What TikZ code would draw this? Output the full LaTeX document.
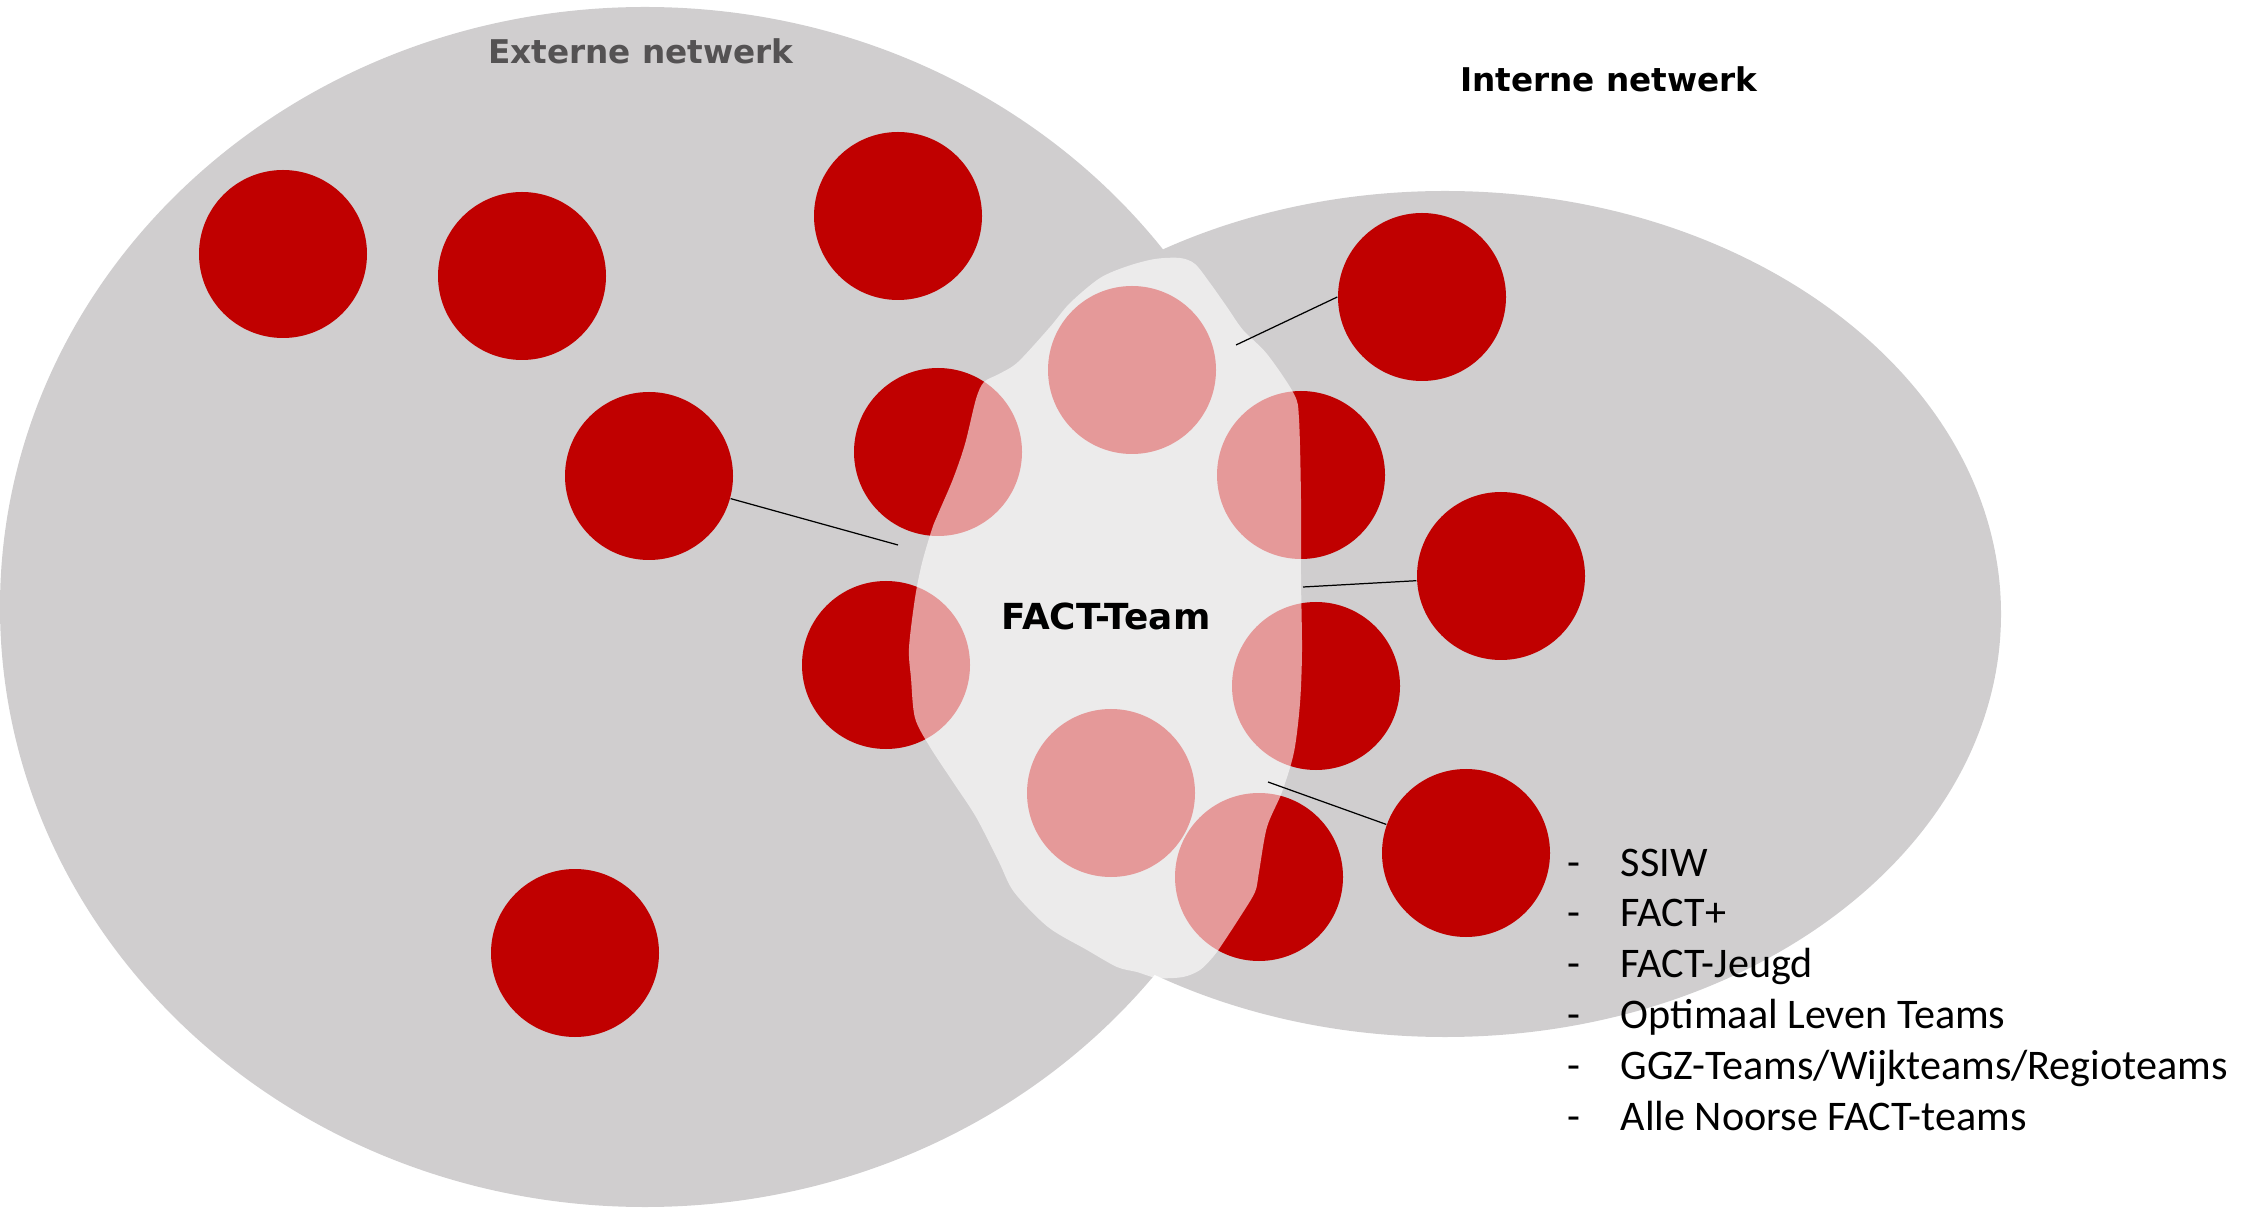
\documentclass[tikz,border=0pt]{standalone}
\usepackage{fontspec}
\newfontfamily\labelfont{DejaVu Sans}
\newfontfamily\listfont{Carlito}
\usetikzlibrary{positioning}
\definecolor{netgrey}{RGB}{208,206,207}
\definecolor{dotred}{RGB}{192,0,0}
\definecolor{extgrey}{RGB}{84,82,83}

\begin{document}
\begin{tikzpicture}[x=1mm,y=-1mm,
   net/.style={fill=netgrey},
   member/.style={circle,fill=dotred,minimum size=16.8mm,inner sep=0pt},
   title/.style={font=\labelfont\bfseries\fontsize{9.3}{11}\selectfont,anchor=base,inner sep=0pt},
   link/.style={draw=black,line width=0.35pt},
   listitem/.style={font=\listfont\fontsize{12}{14}\selectfont,anchor=base west,inner sep=0pt}]
  \useasboundingbox (0,0) rectangle (224.1,120.8);

  % the two networks
  \fill[net] (64.5,60.7) ellipse [x radius=64.5mm, y radius=60mm];
  \fill[net] (144.5,61.4) ellipse [x radius=55.6mm, y radius=42.3mm];

  % external partners
  \node[member] (ext1) at (28.3,25.4) {};
  \node[member] (ext2) at (52.2,27.6) {};
  \node[member] (ext3) at (89.8,21.6) {};
  \node[member] (ext4) at (64.9,47.6) {};
  \node[member] (ext5) at (57.5,95.3) {};

  % members around the team
  \node[member] (team1) at (93.8,45.2) {};
  \node[member] (team2) at (113.2,37.0) {};
  \node[member] (team3) at (130.1,47.5) {};
  \node[member] (team4) at (88.6,66.5) {};
  \node[member] (team5) at (131.6,68.6) {};
  \node[member] (team6) at (111.1,79.3) {};
  \node[member] (team7) at (125.9,87.7) {};

  % internal partners
  \node[member] (int1) at (142.2,29.7) {};
  \node[member] (int2) at (150.1,57.6) {};
  \node[member] (int3) at (146.6,85.3) {};

  % the team itself
  \fill[white,fill opacity=0.6] plot[smooth cycle,tension=0.5] coordinates {
    (115.5,25.9) (118.0,25.8) (119.5,26.4) (121.0,28.3) (122.7,30.7)
    (124.3,33.0) (126.7,35.4) (129.4,39.4) (129.9,41.9) (130.1,50.0)
    (130.1,57.8) (130.2,65.0) (130.0,70.3) (129.4,75.2) (128.2,79.2)
    (126.7,82.7) (125.9,87.2) (125.5,89.2) (124.0,91.7) (122.1,94.6)
    (121.3,95.7) (120.0,97.0) (118.3,97.7) (115.7,97.8) (113.7,97.2)
    (111.7,96.7) (108.7,95.0) (104.8,92.7) (101.4,89.2) (99.9,86.2)
    (97.6,81.7) (95.3,78.2) (93.0,74.7) (91.5,71.8) (91.1,67.8)
    (90.9,64.8) (91.5,59.8) (92.2,56.3) (93.2,52.9) (93.8,51.4)
    (95.3,47.9) (96.5,44.4) (97.6,39.9) (98.4,38.2) (99.9,37.4)
    (101.8,36.2) (105.0,32.7) (107.0,30.3) (110.0,27.8) (112.8,26.6)};

  \coordinate (hub-w)  at (89.8,54.5);
  \coordinate (hub-ne) at (123.6,34.5);
  \coordinate (hub-e)  at (130.3,58.7);
  \coordinate (hub-se) at (126.8,78.2);

  \draw[link] (ext4) -- (hub-w);
  \draw[link] (int1.west) -- (hub-ne);
  \draw[link] (int2) -- (hub-e);
  \draw[link] (int3) -- (hub-se);

  \node[title,text=extgrey] (extern) at (64.1,6.4) {Externe netwerk};
  \node[title] (intern) at (160.9,9.2) {Interne netwerk};
  \node[title,font=\labelfont\bfseries\fontsize{10.2}{12}\selectfont] (team) at (110.6,63.0) {FACT-Team};

  % kinds of teams in the internal network
  \foreach \txt [count=\i] in {SSIW, FACT+, FACT-Jeugd, Optimaal Leven Teams,
      GGZ-Teams/Wijkteams/Regioteams, Alle Noorse FACT-teams}
    \node[listitem] (item\i) at (156.7,{87.6+5.08*(\i-1)}) {\makebox[5.3mm][l]{-}\txt};
\end{tikzpicture}
\end{document}
